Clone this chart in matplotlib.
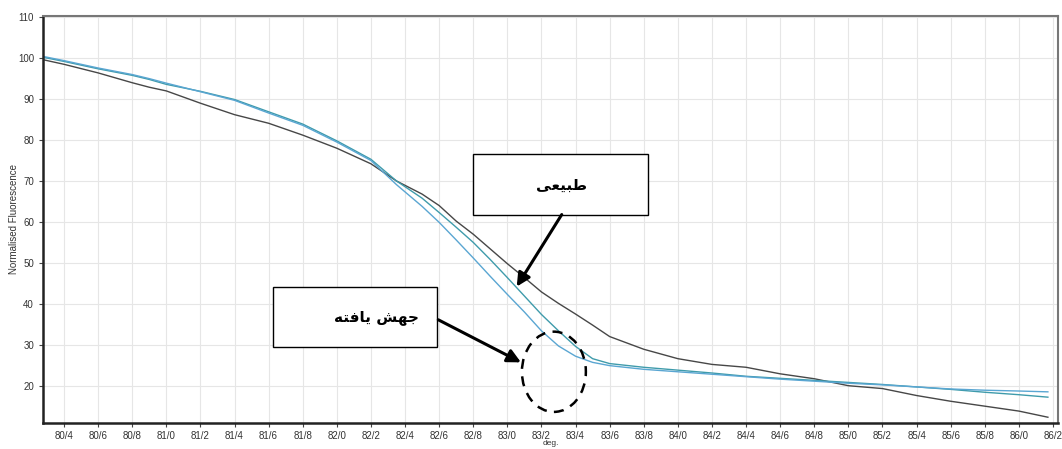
import matplotlib
matplotlib.use('Agg')
from matplotlib import pyplot as plt
from matplotlib.patches import Rectangle, Ellipse
from matplotlib.ticker import FuncFormatter

# melt curve readings (temperature in deg, normalised fluorescence)
temps = [80.28, 80.4, 80.6, 80.8, 80.9, 81.0, 81.2, 81.4, 81.6, 81.8, 82.0, 82.2,
         82.35, 82.5, 82.6, 82.7, 82.8, 82.9, 83.0, 83.1, 83.2, 83.3, 83.4, 83.5,
         83.6, 83.8, 84.0, 84.2, 84.4, 84.6, 84.8, 85.0, 85.2, 85.4, 85.6, 85.8,
         86.0, 86.17]
normal = [99.6, 98.5, 96.4, 94.0, 92.9, 92.0, 89.0, 86.2, 84.1, 81.2, 78.0, 74.2,
          70.0, 66.8, 64.0, 60.2, 57.0, 53.4, 49.8, 46.4, 42.9, 40.1, 37.5, 34.8,
          32.0, 28.9, 26.6, 25.2, 24.5, 22.9, 21.7, 20.0, 19.3, 17.6, 16.2, 15.0,
          13.8, 12.3]
mutant_a = [100.4, 99.4, 97.6, 96.0, 95.0, 93.9, 91.8, 89.7, 86.6, 83.6, 79.5, 75.0,
            69.1, 63.8, 59.9, 55.6, 51.2, 46.7, 42.3, 38.0, 33.4, 29.7, 27.2, 25.7,
            24.9, 24.0, 23.4, 22.8, 22.2, 21.6, 21.1, 20.6, 20.2, 19.7, 19.2, 18.9,
            18.7, 18.5]
mutant_b = [100.2, 99.2, 97.4, 95.8, 94.8, 93.6, 91.9, 89.9, 86.9, 83.9, 79.8, 75.3,
            70.0, 65.8, 62.3, 58.7, 55.0, 50.8, 46.4, 41.9, 37.4, 33.4, 29.6, 26.6,
            25.4, 24.5, 23.8, 23.1, 22.3, 21.8, 21.3, 20.8, 20.3, 19.7, 19.1, 18.4,
            17.8, 17.2]

xticks = [80.4 + 0.2 * i for i in range(30)]
yticks = list(range(20, 111, 10))

# labels (Persian, written in presentation forms, visual order)
label_normal = '\ufef0\ufecc\ufef4\ufe92\ufec3'                      # طبیعی
label_mutant = '\ufeea\ufe98\ufed3\ufe8e\ufef3 \ufeb6\ufeec\ufe9f'   # جهش یافته

plt.rcParams['font.family'] = ['Liberation Sans', 'DejaVu Sans']

fig = plt.figure(figsize=(10.62, 4.49), dpi=100)
ax = fig.add_axes([0.0405, 0.058, 0.9557, 0.9064])

ax.plot(temps, normal, color='#474747', lw=1.0)
ax.plot(temps, mutant_b, color='#3f9bab', lw=1.0)
ax.plot(temps, mutant_a, color='#5aa6d2', lw=1.0)

ax.set_xlim(80.277, 86.229)
ax.set_ylim(10.9, 110.3)
ax.set_xticks(xticks)
ax.set_yticks(yticks)
ax.xaxis.set_major_formatter(FuncFormatter(lambda v, p: ('%.1f' % v).replace('.', '/')))
ax.tick_params(labelsize=7, colors='#444444', labelcolor='#333333', length=3, width=0.8)
ax.tick_params(axis='x', pad=2.5)
ax.grid(True, color='#e6e6e6', lw=0.8)
ax.set_axisbelow(True)

for s in ['left', 'bottom']:
    ax.spines[s].set_linewidth(1.8)
    ax.spines[s].set_color('#222222')
for s in ['top', 'right']:
    ax.spines[s].set_linewidth(1.5)
    ax.spines[s].set_color('#777777')

ax.set_ylabel('Normalised Fluorescence', fontsize=7, color='#333333')
ax.yaxis.set_label_coords(-0.0236, 0.5)
ax.set_xlabel('deg.', fontsize=6, color='#333333')
ax.xaxis.set_label_coords(0.5, -0.0415)

# annotation boxes
ax.add_patch(Rectangle((82.80, 61.8), 83.827 - 82.80, 76.7 - 61.8, fill=True,
                       facecolor='white', edgecolor='black', lw=1.0, zorder=4))
ax.text(83.319, 68.9, label_normal, fontsize=11, fontweight='bold',
        ha='center', va='center', family='DejaVu Sans', zorder=5)
ax.annotate('', xy=(83.055, 44.2), xytext=(83.319, 61.8),
            arrowprops=dict(arrowstyle='-|>', color='black', lw=2.2,
                            mutation_scale=20, shrinkA=0, shrinkB=0), zorder=5)

ax.add_patch(Rectangle((81.628, 29.5), 82.589 - 81.628, 44.1 - 29.5, fill=True,
                       facecolor='white', edgecolor='black', lw=1.0, zorder=4))
ax.text(82.234, 36.7, label_mutant, fontsize=11, fontweight='bold',
        ha='center', va='center', family='DejaVu Sans', zorder=5)
ax.annotate('', xy=(83.08, 25.7), xytext=(82.595, 36.1),
            arrowprops=dict(arrowstyle='-|>', color='black', lw=2.2,
                            mutation_scale=20, shrinkA=0, shrinkB=0), zorder=5)

ax.add_patch(Ellipse((83.273, 23.4), 0.375, 19.6, fill=False, edgecolor='black',
                     lw=1.8, linestyle=(0, (4, 3)), zorder=5))

plt.savefig('out.png', dpi=100)
